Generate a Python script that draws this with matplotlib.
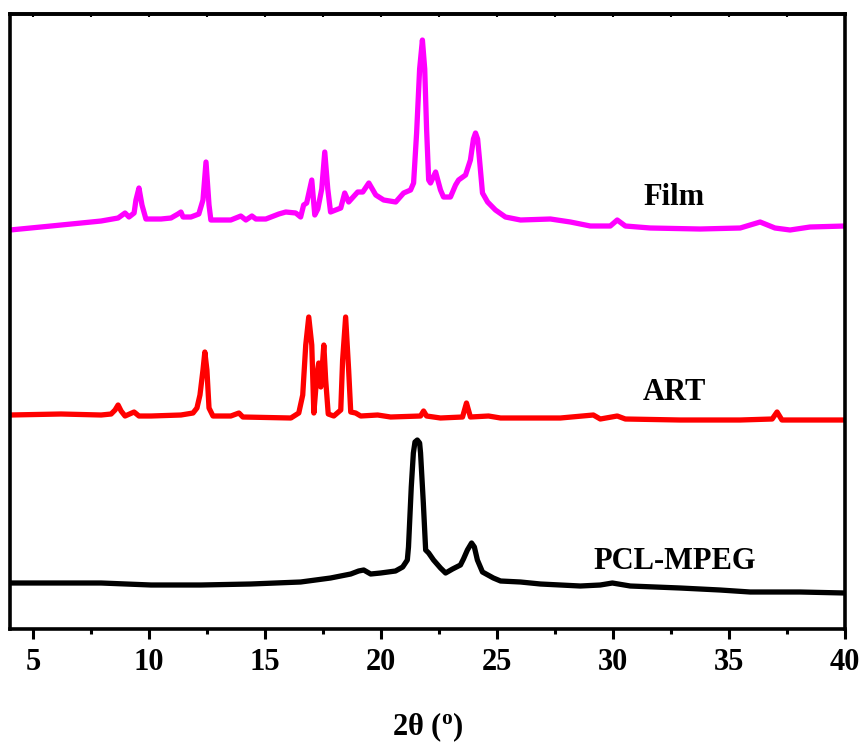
import matplotlib
matplotlib.use("Agg")
import matplotlib.pyplot as plt

plt.rcParams["font.family"] = ["Liberation Serif", "DejaVu Serif"]
plt.rcParams["font.weight"] = "bold"
plt.rcParams["mathtext.fontset"] = "custom"
plt.rcParams["mathtext.rm"] = "Liberation Serif:bold"
plt.rcParams["mathtext.bf"] = "Liberation Serif:bold"
plt.rcParams["mathtext.it"] = "Liberation Serif:bold"

# XRD patterns (2theta in degrees, intensity in a.u., curves stacked with offsets)
film_2theta = [4.0, 5.77, 7.07, 7.93, 8.66, 8.96, 9.13, 9.35, 9.43, 9.56, 9.69, 9.86,
               10.51, 10.94, 11.24, 11.37, 11.46, 11.80, 12.14, 12.32, 12.45, 12.58,
               12.66, 13.52, 13.95, 14.17, 14.43, 14.60, 15.03, 15.59, 15.89, 16.32,
               16.53, 16.66, 16.79, 17.01, 17.14, 17.27, 17.44, 17.57, 17.70, 17.82,
               18.26, 18.43, 18.60, 18.99, 19.21, 19.47, 19.77, 20.11, 20.63, 20.97,
               21.27, 21.40, 21.53, 21.66, 21.78, 21.88, 21.96, 22.05, 22.13, 22.35,
               22.56, 22.69, 22.99, 23.21, 23.34, 23.64, 23.85, 23.98, 24.07, 24.16,
               24.24, 24.37, 24.59, 24.93, 25.36, 26.01, 27.30, 28.16, 29.02, 29.88,
               30.18, 30.53, 31.60, 33.75, 35.48, 36.34, 36.98, 37.63, 38.49, 40.0]
film_int = [399, 403, 406, 408, 411, 416, 412, 416, 429, 441, 424, 410,
            410, 411, 415, 417, 412, 412, 415, 429, 467, 424,
            409, 409, 413, 409, 413, 410, 410, 415, 417, 416,
            412, 424, 426, 449, 414, 420, 440, 477, 440, 417,
            421, 436, 427, 437, 437, 446, 434, 429, 427, 436,
            439, 446, 496, 560, 589, 560, 500, 449, 446, 457,
            439, 432, 432, 444, 449, 454, 469, 490, 496, 490,
            470, 436, 427, 419, 412, 409, 410, 407, 403, 403,
            409, 403, 401, 400, 401, 407, 401, 399, 402, 403]

art_2theta = [4.0, 6.20, 7.93, 8.36, 8.53, 8.66, 8.79, 8.96, 9.35, 9.56, 10.08, 11.37,
              11.89, 12.06, 12.19, 12.32, 12.40, 12.49, 12.58, 12.75, 13.52, 13.87,
              14.04, 16.11, 16.45, 16.62, 16.75, 16.88, 17.01, 17.10, 17.23, 17.31,
              17.40, 17.53, 17.61, 17.72, 17.96, 18.26, 18.34, 18.47, 18.60, 18.69,
              18.90, 19.12, 19.85, 20.41, 21.70, 21.83, 21.96, 22.56, 23.51, 23.68,
              23.85, 24.63, 25.15, 26.44, 27.73, 29.15, 29.45, 30.18, 30.53, 32.89,
              35.48, 36.86, 37.07, 37.28, 40.0]
art_int = [214, 215, 214, 215, 219, 224, 218, 213, 217, 213, 213, 214,
           216, 221, 234, 259, 277, 259, 221, 213, 213, 216,
           212, 211, 216, 234, 284, 312, 284, 216, 254, 266,
           242, 284, 249, 215, 213, 219, 269, 312, 259, 217,
           216, 213, 214, 212, 213, 218, 213, 211, 212, 226,
           212, 213, 211, 211, 211, 214, 210, 213, 210, 209,
           209, 210, 217, 209, 209]

pcl_2theta = [4.0, 7.93, 10.08, 12.23, 14.38, 16.53, 17.82, 18.69, 19.03, 19.25,
              19.55, 19.98, 20.62, 20.93, 21.13, 21.18, 21.30, 21.39, 21.46, 21.56,
              21.66, 21.70, 21.82, 21.92, 22.05, 22.26, 22.56, 22.78, 23.08, 23.42,
              23.55, 23.72, 23.90, 24.02, 24.15, 24.37, 24.84, 25.15, 26.01, 26.87,
              28.59, 29.45, 29.97, 30.74, 32.89, 34.61, 35.91, 38.06, 40.0]
pcl_int = [46, 46, 44, 44, 45, 47, 51, 55, 58, 59,
           55, 56, 58, 62, 69, 82, 142, 176, 187, 189,
           186, 176, 126, 79, 76, 69, 61, 56, 60, 64,
           70, 79, 86, 82, 69, 57, 51, 48, 47, 45,
           43, 44, 46, 43, 41, 39, 37, 37, 36]

series_names = ["Film", "ART", "PCL-MPEG"]
series_colors = ["#FF00FF", "#FF0000", "#000000"]
label_pos = [(32.62, 432), (32.66, 237), (32.68, 68)]

fig = plt.figure(figsize=(8.62, 7.45), dpi=100)
ax = fig.add_axes([0.0116, 0.1557, 0.9687, 0.8255])

for xs, ys, c in zip([film_2theta, art_2theta, pcl_2theta],
                     [film_int, art_int, pcl_int], series_colors):
    ax.plot(xs, ys, color=c, lw=3.8, solid_joinstyle="round", solid_capstyle="round")

for name, (lx, ly) in zip(series_names, label_pos):
    ax.text(lx, ly, name, ha="center", va="center", fontsize=22, fontweight="bold")

ax.set_xlim(4, 40)
ax.set_ylim(0, 615)
ax.set_yticks([])
ax.set_xticks([5, 10, 15, 20, 25, 30, 35, 40])
ax.set_xticks([7.5, 12.5, 17.5, 22.5, 27.5, 32.5, 37.5], minor=True)
ax.tick_params(axis="x", which="major", direction="out", length=7, width=2.2,
               labelsize=22, pad=7)
ax.tick_params(axis="x", which="minor", direction="out", length=3.5, width=2.2)
for lab in ax.get_xticklabels():
    lab.set_fontweight("bold")
for sp in ax.spines.values():
    sp.set_linewidth(2.6)

top = ax.secondary_xaxis("top")
top.set_xticks([5, 10, 15, 20, 25, 30, 35, 40])
top.set_xticks([7.5, 12.5, 17.5, 22.5, 27.5, 32.5, 37.5], minor=True)
top.tick_params(axis="x", which="both", direction="in", length=2.5, width=1.5,
                labeltop=False)
top.spines["top"].set_linewidth(2.6)

ax.set_xlabel(r"2θ ($\mathbf{^{o}}$)", fontsize=22, fontweight="bold", labelpad=24)

fig.savefig("out.png", dpi=100)
